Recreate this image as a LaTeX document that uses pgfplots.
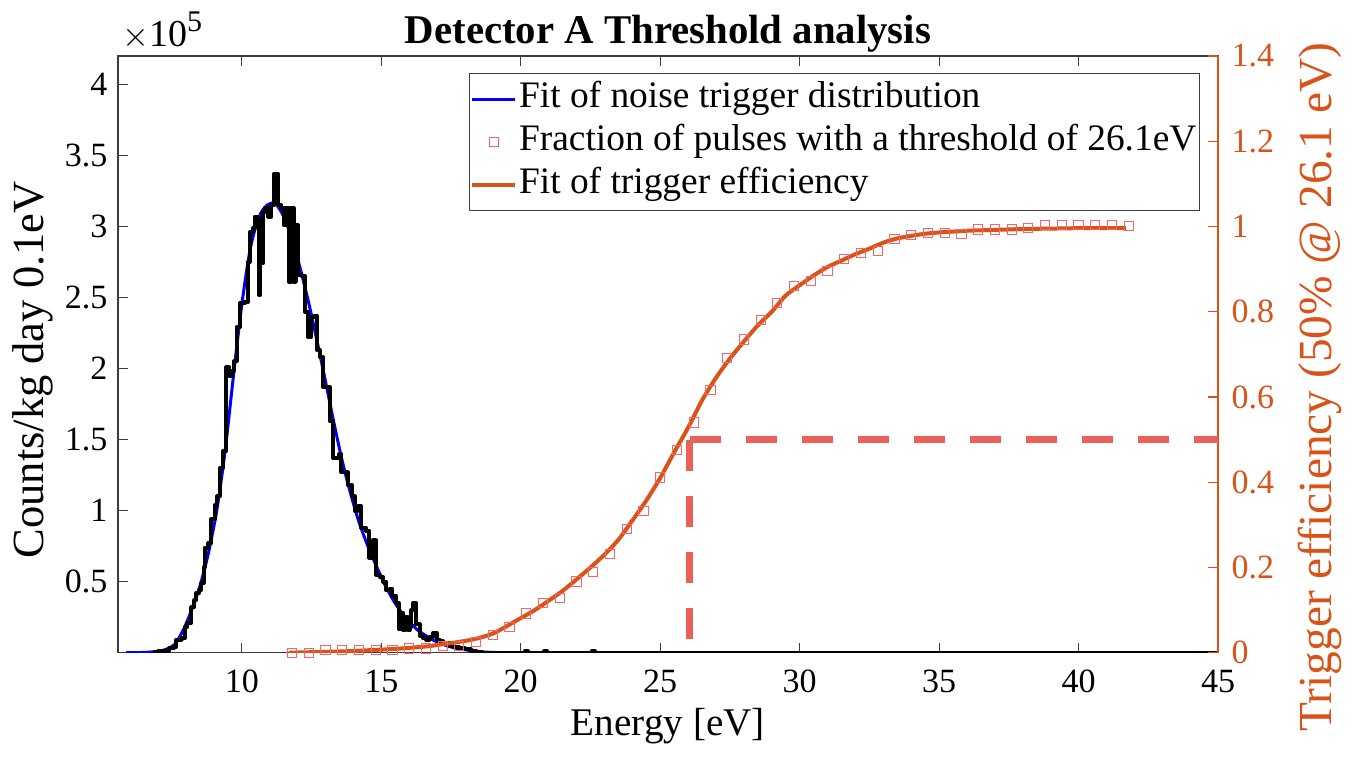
\documentclass[border=0pt]{standalone}
\usepackage{fontspec}
\setmainfont{Liberation Serif}
\usepackage{pgfplots}
\usepackage{pgfplotstable}
\pgfplotsset{compat=1.18}
\definecolor{mblue}{RGB}{0,0,255}
\definecolor{morange}{RGB}{217,83,25}
\definecolor{msq}{RGB}{250,100,100}
\definecolor{mdash}{RGB}{236,96,90}
\definecolor{maxis}{RGB}{60,60,60}

% histogram (left bin edge, counts in units of 1e5)
\pgfplotstableread{
E c
6.8 0.004
7.0 0.01
7.2 0.015
7.4 0.03
7.55 0.04
7.65 0.09
7.85 0.10
7.95 0.18
8.05 0.21
8.19 0.32
8.3 0.37
8.37 0.42
8.47 0.44
8.55 0.49
8.63 0.60
8.67 0.74
8.8 0.77
8.91 0.94
9.03 1.04
9.12 1.10
9.21 1.30
9.33 1.42
9.45 2.01
9.55 1.95
9.63 1.98
9.72 2.05
9.81 2.29
9.93 2.46
10.1 2.47
10.22 2.75
10.28 2.96
10.4 2.99
10.46 3.07
10.55 3.06
10.6 2.52
10.66 2.74
10.75 3.10
10.82 3.13
10.95 3.07
11.06 3.15
11.14 3.37
11.3 3.15
11.42 3.13
11.5 3.01
11.6 3.13
11.7 2.61
11.78 3.13
11.86 2.61
11.94 3.01
12.02 2.66
12.15 2.65
12.26 2.40
12.38 2.22
12.48 2.36
12.6 2.37
12.7 2.13
12.79 2.08
12.91 1.87
13.05 1.87
13.15 1.63
13.27 1.37
13.4 1.37
13.5 1.40
13.57 1.27
13.7 1.27
13.8 1.18
13.95 1.10
14.05 1.00
14.17 1.03
14.29 0.88
14.45 0.86
14.56 0.67
14.7 0.79
14.82 0.55
14.95 0.53
15.07 0.50
15.18 0.44
15.3 0.45
15.4 0.40
15.54 0.35
15.62 0.17
15.7 0.28
15.78 0.16
15.86 0.25
15.94 0.16
16.02 0.18
16.08 0.30
16.14 0.35
16.26 0.20
16.38 0.12
16.5 0.10
16.62 0.09
16.74 0.11
16.86 0.14
16.98 0.09
17.1 0.08
17.22 0.06
17.34 0.07
17.46 0.05
17.6 0.04
17.8 0.03
18.0 0.025
18.2 0.015
18.4 0.008
18.6 0.0
20.15 0.012
20.25 0.0
20.85 0.012
20.95 0.0
22.55 0.012
22.65 0.0
45 0.0
}\histtable

% fit of noise trigger distribution (units of 1e5)
\pgfplotstableread{
E c
5.85 0
6.5 0.002
7.0 0.01
7.3 0.025
7.6 0.06
7.9 0.16
8.2 0.30
8.5 0.47
8.8 0.70
9.1 1.00
9.4 1.42
9.7 1.95
10.0 2.45
10.3 2.84
10.6 3.06
10.9 3.15
11.2 3.16
11.5 3.07
11.8 2.91
12.1 2.70
12.4 2.46
12.7 2.19
13.0 1.91
13.3 1.62
13.6 1.35
13.9 1.12
14.2 0.92
14.5 0.76
14.8 0.62
15.1 0.49
15.4 0.38
15.7 0.29
16.0 0.22
16.3 0.16
16.6 0.12
16.9 0.085
17.2 0.06
17.5 0.04
17.8 0.027
18.2 0.015
18.6 0.006
19.0 0.002
19.5 0
21.0 0
}\fittable

% fraction of pulses
\pgfplotstableread{
E f
11.8 0.0
12.4 0.0
13.0 0.006
13.6 0.006
14.2 0.006
14.8 0.006
15.4 0.006
16.0 0.01
16.6 0.01
17.2 0.016
17.8 0.016
18.4 0.026
19.0 0.042
19.6 0.061
20.2 0.092
20.8 0.116
21.4 0.128
22.0 0.167
22.6 0.189
23.2 0.231
23.8 0.290
24.4 0.332
25.0 0.411
25.6 0.476
26.2 0.540
26.8 0.616
27.4 0.691
28.0 0.735
28.6 0.781
29.2 0.820
29.8 0.860
30.4 0.873
31.0 0.896
31.6 0.924
32.2 0.938
32.8 0.942
33.4 0.970
34.0 0.980
34.6 0.984
35.2 0.984
35.8 0.982
36.4 0.993
37.0 0.993
37.6 0.993
38.2 0.997
38.8 1.003
39.4 1.003
40.0 1.003
40.6 1.003
41.2 1.003
41.8 1.002
}\sqtable

% fit of trigger efficiency
\pgfplotstableread{
E f
11.7 0.0
13.0 0.002
14.0 0.004
14.6 0.006
15.5 0.009
16.5 0.014
17.0 0.018
18.2 0.03
19.0 0.045
19.7 0.07
20.5 0.10
21.0 0.122
21.5 0.145
22.0 0.172
22.5 0.20
23.0 0.23
23.5 0.265
24.0 0.31
24.5 0.357
25.0 0.41
25.5 0.47
26.0 0.528
26.5 0.592
27.0 0.645
27.5 0.69
28.0 0.73
28.5 0.768
29.0 0.80
29.5 0.838
30.0 0.862
30.5 0.885
31.0 0.905
31.5 0.92
32.0 0.935
32.5 0.948
33.0 0.962
33.5 0.972
34.0 0.978
34.5 0.983
35.0 0.986
35.5 0.988
36.0 0.99
37.0 0.992
38.0 0.994
39.0 0.995
40.0 0.996
41.7 0.996
}\efftable

\begin{document}
\begin{tikzpicture}
\begin{axis}[
  at={(0,0)}, anchor=south west,
  scale only axis, width=550pt, height=298.35pt,
  xmin=5.56, xmax=45, ymin=0, ymax=4.2,
  xtick={10,15,20,25,30,35,40,45},
  ytick={0.5,1,1.5,2,2.5,3,3.5,4},
  ytick pos=left,
  tick align=inside,
  major tick length=5pt,
  axis line style={maxis, line width=0.6pt},
  every tick/.style={maxis, line width=0.6pt},
  tick label style={font=\fontsize{17}{17}\selectfont, text=black},
  /pgf/number format/assume math mode=true,
  xticklabel style={yshift=-5.3pt},
  yticklabel style={xshift=-1.8pt},
  xlabel={Energy [eV]},
  every axis x label/.style={at={(axis description cs:0.5,-0.138)}, anchor=base, font=\fontsize{19.6}{20}\selectfont},
  ylabel={Counts/kg day 0.1eV},
  every axis y label/.style={at={(axis description cs:-0.068,0.474)}, anchor=base, rotate=90, font=\fontsize{22.25}{23}\selectfont},
  title={Detector A Threshold analysis},
  every axis title/.style={at={(axis description cs:0.5,1)}, anchor=base, yshift=6.5pt, font=\bfseries\fontsize{20.4}{21}\selectfont},
  clip mode=individual,
]
\addplot[mblue, line width=1.5pt, smooth, forget plot] table[x=E, y=c] {\fittable};
\addplot[black, line width=2pt, const plot, line join=round, forget plot] table[x=E, y=c] {\histtable};
\node[anchor=base west, inner sep=0pt] at (rel axis cs:0.0034,1.0156) {\fontsize{19}{19}\selectfont $\times$10\raisebox{7.5pt}{\fontsize{15}{15}\selectfont 5}};
\end{axis}

\begin{axis}[
  at={(0,0)}, anchor=south west,
  scale only axis, width=550pt, height=298.35pt,
  xmin=5.56, xmax=45, ymin=0, ymax=1.4,
  axis x line=none, axis y line*=right,
  ytick={0,0.2,0.4,0.6,0.8,1,1.2,1.4},
  tick align=inside,
  major tick length=5pt,
  y axis line style={morange, line width=0.6pt},
  ytick style={morange, line width=0.6pt},
  /pgf/number format/assume math mode=true,
  /pgf/number format/fixed,
  yticklabel style={font=\fontsize{17}{17}\selectfont, text=morange, xshift=3.3pt},
  ylabel={Trigger efficiency (50\% @ 26.1 eV)},
  every axis y label/.style={at={(axis description cs:1.1036,0.445)}, anchor=base, rotate=90, font=\fontsize{23.7}{24}\selectfont, text=morange},
  legend cell align=left,
  legend image code/.code={\draw[mark repeat=2,mark phase=2,#1] plot coordinates {(0pt,0pt) (10.75pt,0pt) (21.5pt,0pt)};},
  legend style={at={(axis description cs:0.9836,0.9715)}, anchor=north east,
    draw=black!75, line width=0.6pt, fill=white,
    font=\fontsize{18.7}{19}\selectfont,
    inner xsep=0.5pt, inner ysep=2pt,
    nodes={inner xsep=1pt, inner ysep=2pt, text height=13pt, text depth=4.5pt},
    row sep=0pt},
  clip=true,
]
\addlegendimage{mblue, line width=1.5pt}
\addlegendentry{Fit of noise trigger distribution}
\addplot[mdash, line width=3.5pt, dash pattern=on 15.5pt off 12.5pt, forget plot] coordinates {(26.06,0.5) (26.06,0)};
\addplot[mdash, line width=3.5pt, dash pattern=on 15.5pt off 12.5pt, forget plot] coordinates {(26.06,0.5) (45,0.5)};
\addplot[only marks, mark=square, mark size=2.3pt, msq, mark options={line width=0.5pt}] table[x=E, y=f] {\sqtable};
\addlegendentry{Fraction of pulses with a threshold of 26.1eV}
\addplot[morange, line width=2pt, smooth] table[x=E, y=f] {\efftable};
\addlegendentry{Fit of trigger efficiency}
\end{axis}
\pgfresetboundingbox
\path[use as bounding box] (-59pt,-51.65pt) rectangle (618.5pt,326.35pt);
\end{tikzpicture}
\end{document}
